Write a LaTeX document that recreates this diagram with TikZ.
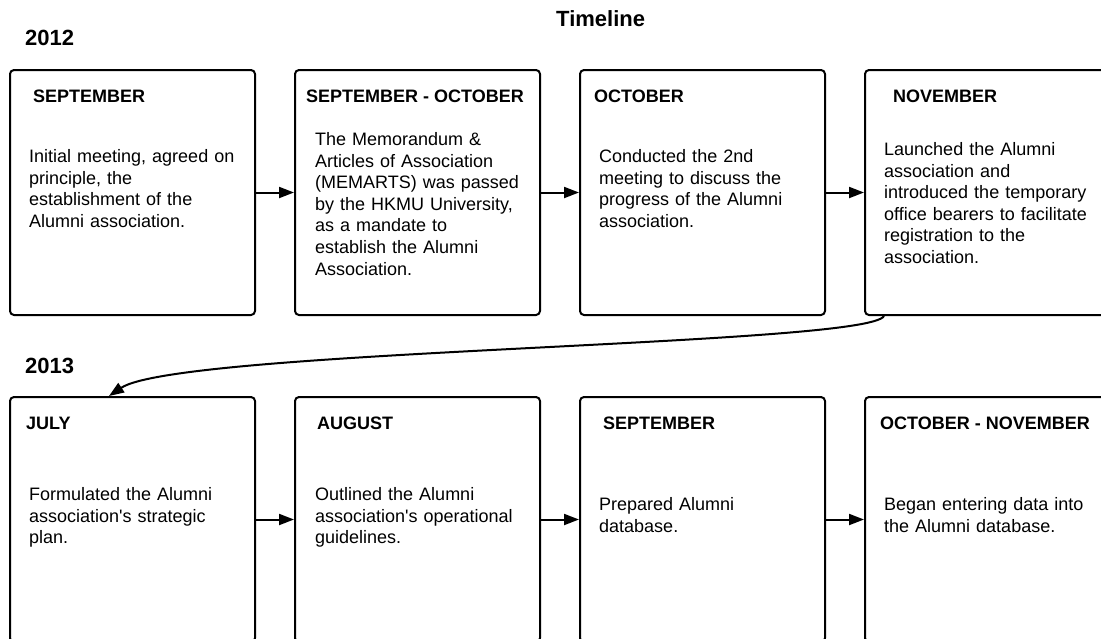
\documentclass[tikz,border=0pt]{standalone}
\usepackage{fontspec}
\setmainfont{Liberation Sans}
\usetikzlibrary{arrows.meta}
\tikzstyle{monthbox} = [rectangle, rounded corners=4pt, minimum width=245pt, minimum height=245pt, draw=black, line width=2pt]
\tikzstyle{month} = [anchor=base west, inner sep=0pt, font=\fontsize{18}{21.6}\selectfont\bfseries]
\tikzstyle{event} = [anchor=base west, inner sep=0pt, text width=235pt, align=left, font=\fontsize{18}{21.6}\selectfont]
\tikzstyle{year} = [anchor=base west, inner sep=0pt, font=\fontsize{22}{26}\selectfont\bfseries]
\tikzstyle{arrow} = [line width=2pt,-{Triangle[length=15pt,width=11pt]}]

\begin{document}
\begin{tikzpicture}[x=1pt, y=-1pt, node distance=285pt]
			\clip (0,0) rectangle (1101,638);
			\node (title) [year] at (556,26) {Timeline};
			\node (y2012) [year] at (25,45) {2012};
			\node (y2013) [year] at (25,373) {2013};
			
			% 2012
			\node (sep12) [monthbox] at (132.5,192.5) {};
			\node (sepoct12) [monthbox, right of=sep12] {};
			\node (oct12) [monthbox, right of=sepoct12] {};
			\node (nov12) [monthbox, right of=oct12] {};
			
			% 2013
			\node (jul13) [monthbox, below of=sep12, node distance=327pt] {};
			\node (aug13) [monthbox, right of=jul13] {};
			\node (sep13) [monthbox, right of=aug13] {};
			\node (octnov13) [monthbox, right of=sep13] {};
			
			\node (sep12h) [month] at ([xshift=24pt,yshift=-33.5pt]sep12.north west) {SEPTEMBER};
			\node (sepoct12h) [month] at ([xshift=12pt,yshift=-33.5pt]sepoct12.north west) {SEPTEMBER - OCTOBER};
			\node (oct12h) [month] at ([xshift=15pt,yshift=-33.5pt]oct12.north west) {OCTOBER};
			\node (nov12h) [month] at ([xshift=29pt,yshift=-33.5pt]nov12.north west) {NOVEMBER};
			\node (jul13h) [month] at ([xshift=17pt,yshift=-33.5pt]jul13.north west) {JULY};
			\node (aug13h) [month] at ([xshift=23pt,yshift=-33.5pt]aug13.north west) {AUGUST};
			\node (sep13h) [month] at ([xshift=24pt,yshift=-33.5pt]sep13.north west) {SEPTEMBER};
			\node (octnov13h) [month] at ([xshift=16pt,yshift=-33.5pt]octnov13.north west) {OCTOBER - NOVEMBER};
			
			\node (sep12t) [event] at ([xshift=20pt,yshift=-93.5pt]sep12.north west) {Initial meeting, agreed on\\ principle, the\\ establishment of the\\ Alumni association.};
			\node (sepoct12t) [event] at ([xshift=21pt,yshift=-76.5pt]sepoct12.north west) {The Memorandum \&\\ Articles of Association\\ (MEMARTS) was passed\\ by the HKMU University,\\ as a mandate to\\ establish the Alumni\\ Association.};
			\node (oct12t) [event] at ([xshift=20pt,yshift=-93.5pt]oct12.north west) {Conducted the 2nd\\ meeting to discuss the\\ progress of the Alumni\\ association.};
			\node (nov12t) [event] at ([xshift=20pt,yshift=-86.5pt]nov12.north west) {Launched the Alumni\\ association and\\ introduced the temporary\\ office bearers to facilitate\\ registration to the\\ association.};
			\node (jul13t) [event] at ([xshift=20pt,yshift=-104.5pt]jul13.north west) {Formulated the Alumni\\ association\textquotesingle s strategic\\ plan.};
			\node (aug13t) [event] at ([xshift=21pt,yshift=-104.5pt]aug13.north west) {Outlined the Alumni\\ association\textquotesingle s operational\\ guidelines.};
			\node (sep13t) [event] at ([xshift=20pt,yshift=-114.5pt]sep13.north west) {Prepared Alumni\\ database.};
			\node (octnov13t) [event] at ([xshift=20pt,yshift=-114.5pt]octnov13.north west) {Began entering data into\\ the Alumni database.};
			
			\draw [arrow] (sep12) -- (sepoct12);
			\draw [arrow] (sepoct12) -- (oct12);
			\draw [arrow] (oct12) -- (nov12);
			\draw [arrow] ([xshift=20pt]nov12.south west) .. controls +(-16,30) and +(70,-47) .. ([xshift=100pt]jul13.north west);
			\draw [arrow] (jul13) -- (aug13);
			\draw [arrow] (aug13) -- (sep13);
			\draw [arrow] (sep13) -- (octnov13);
		\end{tikzpicture}
\end{document}
